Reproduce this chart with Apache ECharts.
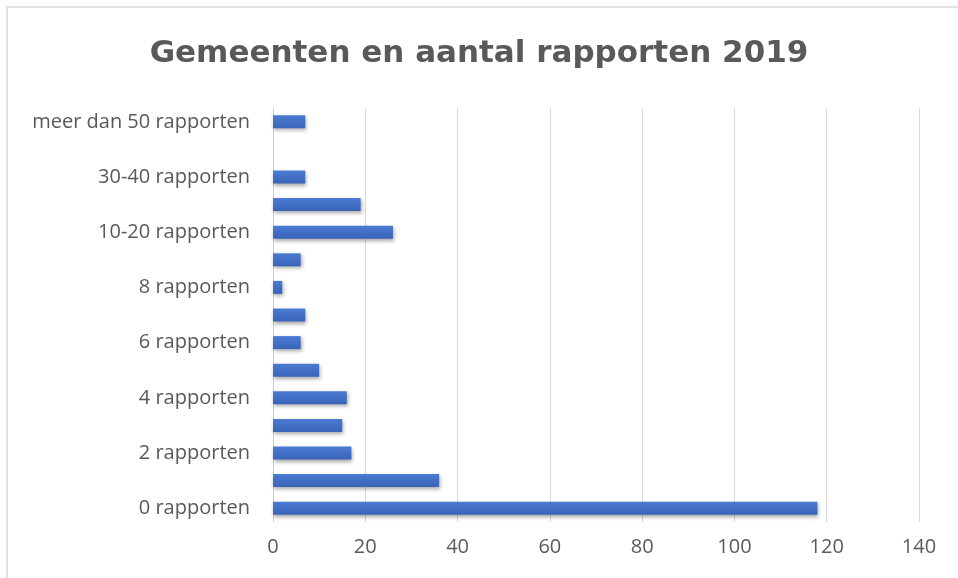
<!DOCTYPE html>
<html>
<head>
<meta charset="utf-8">
<script src="https://cdn.jsdelivr.net/npm/echarts@6/dist/echarts.min.js"></script>
<style>
html,body{margin:0;padding:0;background:#fff;}
#frame{position:absolute;left:6px;top:6px;width:952px;height:572px;border-top:2px solid #e2e2e2;border-left:2px solid #e2e2e2;}
#chart{position:absolute;left:0;top:0;width:958px;height:578px;}
</style>
</head>
<body>
<div id="frame"></div>
<div id="chart"></div>
<script>
// categorieen van onder naar boven
var categories = ['0 rapporten','1 rapport','2 rapporten','3 rapporten','4 rapporten','5 rapporten','6 rapporten','7 rapporten','8 rapporten','9 rapporten','10-20 rapporten','20-30 rapporten','30-40 rapporten','40-50 rapporten','meer dan 50 rapporten'];
var gemeenten = [118, 36, 17, 15, 16, 10, 6, 7, 2, 6, 26, 19, 7, 0, 7];
var xTicks = [0, 140, 20];

var myChart = echarts.init(document.getElementById('chart'));
var option = {
  animation: false,
  title: {
    text: 'Gemeenten en aantal rapporten 2019',
    left: 'center',
    top: 33,
    textStyle: {fontFamily: 'DejaVu Sans', fontWeight: 'bold', fontSize: 31, color: '#595959'}
  },
  grid: {left: 273, right: 39, top: 108, bottom: 56},
  xAxis: {
    type: 'value',
    min: xTicks[0],
    max: xTicks[1],
    interval: xTicks[2],
    axisLine: {show: false},
    axisTick: {show: false},
    splitLine: {lineStyle: {color: '#d9d9d9', width: 1}},
    axisLabel: {color: '#595959', fontFamily: 'Open Sans', fontSize: 20, margin: 15}
  },
  yAxis: {
    type: 'category',
    data: categories,
    axisLine: {lineStyle: {color: '#d0d0d0'}},
    axisTick: {show: false},
    axisLabel: {
      color: '#595959', fontFamily: 'Open Sans', fontSize: 20, margin: 23,
      interval: function (i) { return i % 2 === 0; }
    }
  },
  series: [{
    type: 'bar',
    data: gemeenten,
    barWidth: 13,
    itemStyle: {
      color: new echarts.graphic.LinearGradient(0, 0, 0, 1, [
        {offset: 0, color: '#4b7bd2'},
        {offset: 1, color: '#3964b8'}
      ]),
      shadowColor: 'rgba(0,0,0,0.35)',
      shadowBlur: 4,
      shadowOffsetX: 1,
      shadowOffsetY: 2
    }
  }]
};
myChart.setOption(option);
</script>
</body>
</html>
